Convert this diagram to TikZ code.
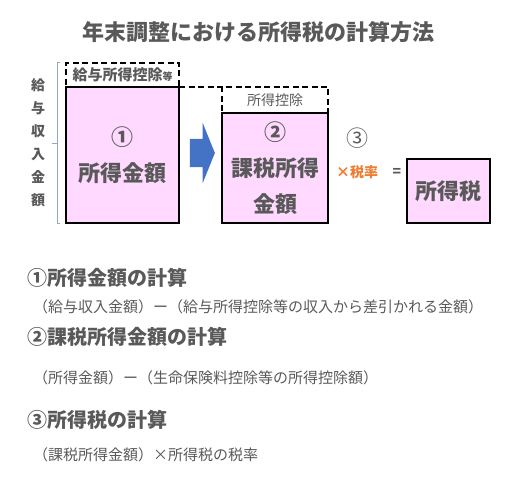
\documentclass[tikz,border=0pt]{standalone}
\usepackage{fontspec}
\usepackage{xcolor}
\usepackage{tikz}
\usetikzlibrary{arrows.meta, positioning, shapes.arrows}
\setmainfont{Noto Sans CJK JP}
\definecolor{textgray}{RGB}{89,89,89}
\definecolor{boxpink}{RGB}{255,217,255}
\definecolor{arrowblue}{RGB}{68,114,196}
\definecolor{rateorange}{RGB}{237,125,49}
\definecolor{bracegray}{RGB}{143,170,200}

\begin{document}
\begin{tikzpicture}[
    x=1pt, y=-1pt,
    every node/.style={text=textgray, inner sep=0pt},
    amount/.style={
        rectangle, draw=black, line width=2.4pt,
        outer sep=0pt, fill=boxpink, align=center,
        font=\bfseries\fontsize{22}{36}\selectfont
    },
    dedbox/.style={
        rectangle, draw=black, line width=2.4pt,
        outer sep=0pt, dash pattern=on 6pt off 3.5pt
    },
    heading/.style={anchor=west,
        font=\bfseries\fontsize{20}{24}\selectfont},
    formula/.style={anchor=west,
        font=\fontsize{15}{18}\selectfont}
]
\useasboundingbox (0,0) rectangle (514,484);

\node[font=\bfseries\fontsize{22}{26}\selectfont] (title) at (258,32)
    {年末調整における所得税の計算方法};

\node[dedbox, minimum width=113pt, minimum height=24pt] (dedA) at (122.5,75)
    {\bfseries\fontsize{15}{18}\selectfont 給与所得控除{\fontsize{10}{12}\selectfont 等}};
\node[dedbox, minimum width=106pt, minimum height=26pt] (dedB) at (275,100)
    {\fontsize{14}{17}\selectfont 所得控除};
\draw[black, line width=2.4pt, dash pattern=on 6pt off 3.5pt]
    (dedA.south east) -- (dedB.north west);

\node[amount, minimum width=113pt, minimum height=136pt] (income) at (122.5,155)
    {①\\所得金額};
\node[amount, minimum width=106pt, minimum height=110pt] (taxable) at (275,168)
    {②\\課税所得\\金額};
\node[amount, minimum width=83pt, minimum height=64pt] (tax) at (448.5,191)
    {所得税};

\node[single arrow, fill=arrowblue, inner xsep=0pt, inner ysep=14pt,
    minimum height=25pt, single arrow head extend=16pt,
    single arrow tip angle=136] (step) at (199.5,153) {};

\node[font=\fontsize{22}{26}\selectfont] (num3) at (357,138) {③};
\node[font=\bfseries\fontsize{14}{17}\selectfont, text=rateorange] (rate)
    at (357,172) {×税率};
\node[font=\bfseries\fontsize{14}{17}\selectfont] (eq) at (397,172) {=};

\node[align=center, font=\bfseries\fontsize{14}{23}\selectfont] (salary)
    at (38,142.5) {給\\与\\収\\入\\金\\額};
\draw[bracegray, line width=1pt]
    (60,63) -- (57,63) -- (57,223) -- (60,223)
    (57,143.5) -- (52,143.5);

\node[heading] (h1) at (27,278) {①所得金額の計算};
\node[formula] (f1) at (33,307)
    {（給与収入金額）ー（給与所得控除等の収入から差引かれる金額）};
\node[heading] (h2) at (27,337) {②課税所得金額の計算};
\node[formula] (f2) at (33,378)
    {（所得金額）ー（生命保険料控除等の所得控除額）};
\node[heading] (h3) at (27,420) {③所得税の計算};
\node[formula] (f3) at (33,455)
    {（課税所得金額）×所得税の税率};
\end{tikzpicture}
\end{document}
